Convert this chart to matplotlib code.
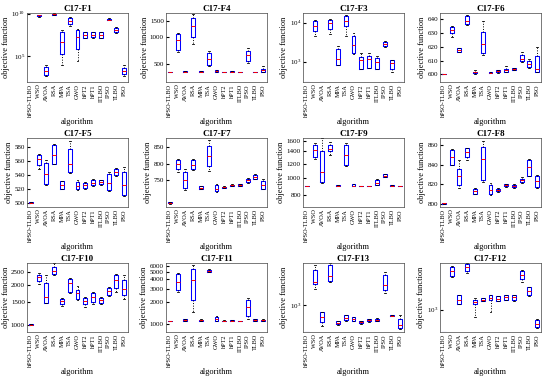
import matplotlib
matplotlib.use("Agg")
import matplotlib.pyplot as plt
from matplotlib.ticker import ScalarFormatter, LogFormatterSciNotation, NullLocator

plt.rcParams['font.family'] = ['Liberation Serif', 'DejaVu Serif']

algos = ['hPSO-TLBO', 'WSO', 'AVOA', 'RSA', 'MPA', 'TSA', 'GWO',
         'hPT2', 'hPT1', 'ITLBO', 'IPSO', 'TLBO', 'PSO']

# ---- C17-F1 ----
f1_med = [1e2, 6.3e9, 1.9e3, 8.9e9, 5.4e6, 1.4e9, 1.7e7, 3.2e7, 3.5e7, 3.2e7, 1.9e9, 1.26e8, 1.8e3]
f1_q1 = [1e2, 5.0e9, 5.9e2, 8e9, 2.0e5, 5.9e8, 7.1e5, 1.6e7, 1.9e7, 1.6e7, 1.7e9, 6.3e7, 7.9e2]
f1_q3 = [1e2, 7.1e9, 5.4e3, 1e10, 7.6e7, 3.5e9, 1.4e8, 6.3e7, 7.1e7, 6.3e7, 2.6e9, 2.4e8, 4.5e3]
f1_lo = [1e2, 4.5e9, 5e2, 7.5e9, 1.1e4, 4e8, 2.6e4, 1.4e7, 1.6e7, 1.4e7, 1.6e9, 5.5e7, 4.5e2]
f1_hi = [1e2, 7.5e9, 1.1e4, 1.05e10, 1.4e8, 4.2e9, 1.6e8, 7e7, 8e7, 7e7, 2.8e9, 2.8e8, 1.1e4]

# ---- C17-F4 ----
f4_med = [400, 933, 405, 1320, 405, 570, 410, 402, 404, 400, 621, 402, 420]
f4_q1 = [400, 720, 400, 1000, 400, 488, 403, 400, 400, 400, 536, 400, 405]
f4_q3 = [400, 1090, 410, 1652, 410, 666, 420, 405, 408, 400, 695, 404, 440]
f4_lo = [400, 680, 398, 840, 398, 470, 400, 398, 398, 400, 510, 400, 400]
f4_hi = [400, 1120, 412, 1800, 412, 690, 425, 407, 410, 400, 740, 405, 470]

# ---- C17-F3 ----
f3_med = [300, 8250, 300, 9600, 1170, 11200, 2660, 1080, 1150, 1000, 2900, 900, 300]
f3_q1 = [300, 6300, 300, 6900, 840, 8250, 1710, 655, 680, 655, 2490, 630, 300]
f3_q3 = [300, 11000, 300, 12000, 2070, 14700, 4500, 1330, 1400, 1240, 3160, 1080, 300]
f3_lo = [300, 4480, 300, 5200, 820, 4500, 1600, 650, 670, 650, 2400, 550, 300]
f3_hi = [300, 11500, 300, 12500, 2600, 15500, 5400, 1710, 1710, 1400, 3300, 1100, 300]

# ---- C17-F6 ----
f6_med = [600, 632, 617.5, 639, 601.5, 622, 601.2, 602.5, 603, 604, 611.3, 607.2, 604]
f6_q1 = [600, 630, 616.3, 636.5, 600.8, 615.4, 600.9, 601.5, 602, 603.2, 609.8, 605.4, 602]
f6_q3 = [600, 634, 618.8, 642, 602, 630.5, 601.5, 603, 604, 604.4, 613.9, 609.5, 613]
f6_lo = [600, 627, 616, 635.5, 600.5, 614, 600.7, 601.2, 601.7, 603, 609, 604.8, 601.5]
f6_hi = [600, 635, 619, 643, 603, 639, 601.7, 603.5, 605.8, 605, 616, 611, 620]

# ---- C17-F5 ----
f5_med = [500.8, 562.6, 542, 569, 526, 556.5, 525, 526, 529.6, 530, 529.6, 544.7, 526]
f5_q1 = [500, 555, 527, 556.5, 521, 544.7, 521, 522, 526, 527, 519, 540, 511.8]
f5_q3 = [501.5, 569, 558, 583, 531.5, 577.6, 530.6, 529.6, 533, 533, 542, 549, 544.7]
f5_lo = [500, 549, 526, 556, 520, 544, 519, 521, 525, 526, 518, 539, 511]
f5_hi = [502, 570.6, 562, 584, 532, 589, 533, 531, 535, 534, 544.7, 550, 551.8]

# ---- C17-F7 ----
f7_med = [683, 798, 750, 797, 728, 823, 725, 729, 735, 736, 750, 760, 735]
f7_q1 = [681, 785, 728, 785, 725, 793, 718, 727, 733, 734, 745, 755, 725]
f7_q3 = [684, 810, 775, 810, 732, 853, 735, 731, 737, 738, 755, 765, 747]
f7_lo = [680, 775, 722, 780, 723, 777, 715, 726, 732, 733, 743, 753, 723]
f7_hi = [685, 815, 785, 813, 734, 870, 740, 732, 738, 739, 758, 770, 755]

# ---- C17-F9 ----
f9_med = [900, 1420, 1077, 1450, 905, 1332, 907, 901, 901, 940, 1027, 905, 901]
f9_q1 = [900, 1305, 948, 1400, 902, 1183, 900, 900, 900, 918, 1010, 902, 900]
f9_q3 = [900, 1513, 1400, 1513, 908, 1513, 920, 902, 902, 968, 1045, 908, 902]
f9_lo = [900, 1265, 940, 1343, 900, 1160, 898, 899, 899, 910, 1005, 900, 899]
f9_hi = [900, 1560, 1650, 1580, 910, 1560, 925, 903, 903, 988, 1050, 910, 903]

# ---- C17-F8 ----
f8_med = [800.5, 848, 829, 853, 812.7, 845.6, 813.7, 814.4, 819, 818, 824, 837.7, 823]
f8_q1 = [800, 840, 819, 848, 810.3, 824, 810, 813, 818, 817, 822.3, 829, 817]
f8_q3 = [801, 855, 836, 857, 815.4, 858, 819, 815.4, 820, 819.5, 825.7, 844.6, 829]
f8_lo = [800, 839.5, 816, 845, 809.5, 822, 809, 812.5, 817.5, 816.5, 821.5, 828.5, 816]
f8_hi = [801.2, 856, 845, 857.5, 816, 865, 821, 816, 820.5, 820, 827.5, 845.5, 830]

# ---- C17-F10 ----
f10_med = [1005, 2295, 1626, 2545, 1518, 2073, 1745, 1518, 1626, 1535, 1800, 2165, 1880]
f10_q1 = [1000, 2143, 1477, 2402, 1452, 1773, 1581, 1436, 1496, 1467, 1680, 1910, 1680]
f10_q3 = [1020, 2362, 2073, 2725, 1581, 2230, 1845, 1608, 1745, 1608, 1910, 2362, 2165]
f10_lo = [1000, 2050, 1470, 2360, 1390, 1750, 1540, 1370, 1450, 1440, 1650, 1773, 1580]
f10_hi = [1025, 2460, 2360, 2900, 1600, 2260, 1980, 1626, 1780, 1640, 1940, 2430, 2360]

# ---- C17-F11 ----
f11_med = [1109, 3670, 1140, 3865, 1130, 5200, 1160, 1110, 1120, 1105, 1702, 1150, 1130]
f11_q1 = [1100, 2842, 1109, 2090, 1109, 5050, 1109, 1100, 1109, 1100, 1280, 1120, 1109]
f11_q3 = [1115, 4645, 1180, 5524, 1150, 5310, 1250, 1120, 1130, 1110, 2133, 1170, 1150]
f11_lo = [1100, 2660, 1100, 1462, 1100, 5000, 1100, 1095, 1100, 1095, 1180, 1110, 1100]
f11_hi = [1115, 4850, 1190, 6100, 1160, 5400, 1300, 1125, 1140, 1115, 2250, 1180, 1160]

# ---- C17-F13 ----
f13_med = [300, 2930, 585, 3800, 450, 558, 541, 464, 501, 517, 2510, 620, 398]
f13_q1 = [300, 2710, 464, 3065, 417, 501, 486, 440, 480, 490, 2056, 610, 352]
f13_q3 = [300, 5010, 736, 6300, 486, 631, 585, 486, 525, 545, 3980, 630, 541]
f13_lo = [300, 2150, 380, 2900, 410, 490, 480, 435, 475, 485, 1800, 605, 340]
f13_hi = [300, 6300, 750, 6900, 490, 650, 600, 490, 530, 550, 4600, 635, 630]

# ---- C17-F12 ----
f12_med = [360, 5930, 1585, 7130, 1423, 1585, 1738, 1660, 1800, 1800, 5090, 2360, 509]
f12_q1 = [360, 4860, 1318, 5930, 1278, 1490, 1536, 1490, 1585, 1536, 4170, 1936, 450]
f12_q3 = [360, 7360, 1936, 8500, 1585, 1710, 1936, 1860, 2000, 2000, 6120, 2840, 612]
f12_lo = [360, 4500, 1300, 5400, 713, 1480, 898, 1470, 1560, 1520, 3570, 1900, 420]
f12_hi = [360, 7600, 1950, 8600, 1710, 1730, 1960, 1880, 2020, 2020, 6300, 2900, 650]

# title, data, scale, ylim, yticks, sci-notation labels
panels = [
    ('C17-F1', (f1_lo, f1_q1, f1_med, f1_q3, f1_hi), 'log', (100, 1.2e10), [1e5, 1e10], True),
    ('C17-F4', (f4_lo, f4_q1, f4_med, f4_q3, f4_hi), 'log', (310, 1860), [500, 1000, 1500], False),
    ('C17-F3', (f3_lo, f3_q1, f3_med, f3_q3, f3_hi), 'log', (300, 1.78e4), [1e3, 1e4], True),
    ('C17-F6', (f6_lo, f6_q1, f6_med, f6_q3, f6_hi), 'linear', (594.5, 644.5), [600, 610, 620, 630, 640], False),
    ('C17-F5', (f5_lo, f5_q1, f5_med, f5_q3, f5_hi), 'linear', (495, 593), [500, 520, 540, 560, 580], False),
    ('C17-F7', (f7_lo, f7_q1, f7_med, f7_q3, f7_hi), 'linear', (670, 877), [750, 800, 850], False),
    ('C17-F9', (f9_lo, f9_q1, f9_med, f9_q3, f9_hi), 'log', (690, 1660), [800, 1000, 1200, 1400, 1600], False),
    ('C17-F8', (f8_lo, f8_q1, f8_med, f8_q3, f8_hi), 'linear', (796.6, 867.6), [800, 820, 840, 860], False),
    ('C17-F10', (f10_lo, f10_q1, f10_med, f10_q3, f10_hi), 'log', (890, 2920), [1000, 1500, 2000, 2500], False),
    ('C17-F11', (f11_lo, f11_q1, f11_med, f11_q3, f11_hi), 'log', (790, 6580), [1000, 2000, 3000, 4000, 5000, 6000], False),
    ('C17-F13', (f13_lo, f13_q1, f13_med, f13_q3, f13_hi), 'log', (295, 7000), [1e3], True),
    ('C17-F12', (f12_lo, f12_q1, f12_med, f12_q3, f12_hi), 'log', (357, 8700), [1e3], True),
]

W, H = 550, 379
fig = plt.figure(figsize=(W / 100, H / 100), dpi=100)
lefts = [27, 166, 303, 440]
tops = [13, 138, 263]
aw, ah = 101, 69

for k, (title, stats_cols, scale, ylim, ticks, sci) in enumerate(panels):
    r, c = divmod(k, 4)
    ax = fig.add_axes([lefts[c] / W, 1 - (tops[r] + ah) / H, aw / W, ah / H])
    lo, q1, med, q3, hi = stats_cols
    stats = [dict(whislo=lo[i], q1=q1[i], med=med[i], q3=q3[i], whishi=hi[i], label=algos[i])
             for i in range(len(algos))]
    ax.bxp(stats, positions=range(1, len(algos) + 1), widths=0.5, showfliers=False,
           boxprops=dict(color='blue', lw=0.75),
           medianprops=dict(color='red', lw=0.7),
           whiskerprops=dict(color='black', ls=':', lw=0.7),
           capprops=dict(color='black', lw=0.6), capwidths=0.25)
    ax.set_yscale(scale)
    ax.set_ylim(*ylim)
    ax.set_xlim(0.5, len(algos) + 0.5)
    ax.set_yticks(ticks)
    if scale == 'log':
        ax.yaxis.set_minor_locator(NullLocator())
        if sci:
            ax.yaxis.set_major_formatter(LogFormatterSciNotation())
        else:
            ax.yaxis.set_major_formatter(ScalarFormatter())
    ax.set_xticks(range(1, len(algos) + 1))
    ax.set_xticklabels(algos, rotation=90, fontsize=4.5)
    ax.tick_params(axis='y', labelsize=5, direction='in', length=2, pad=1.5)
    ax.tick_params(axis='x', direction='in', length=0, pad=1.5)
    for s in ax.spines.values():
        s.set_linewidth(0.5)
        s.set_color('#444444')
    ax.set_title(title, fontsize=6.5, fontweight='bold', pad=1.5)
    ax.set_ylabel('objective function', fontsize=6, labelpad=1)
    ax.set_xlabel('algorithm', fontsize=6)
    ax.xaxis.set_label_coords(0.5, -0.52)

fig.savefig('out.png', dpi=100)
